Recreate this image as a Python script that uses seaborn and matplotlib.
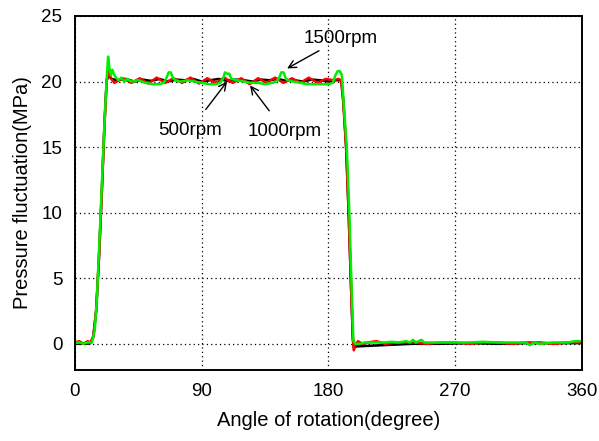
import matplotlib
matplotlib.use("Agg")
import matplotlib.pyplot as plt
import seaborn as sns
import pandas as pd

# 500 rpm (black)
angle_500 = [0, 4, 8, 11, 13, 15, 17, 19, 21, 22.5, 24, 26, 30, 36, 42, 48, 54, 60, 66, 72, 78, 84, 90,
             96, 102, 108, 114, 120, 126, 132, 138, 144, 150, 156, 162, 168, 174, 180, 185, 189,
             190.5, 192.5, 194.3, 195.8, 197.3, 198, 200, 210, 220, 230, 240, 260, 280, 300, 320, 340, 360]
press_500 = [0.0, 0.0, 0.0, 0.05, 0.5, 2.5, 6.5, 11.5, 17.0, 20.1, 20.5, 20.2, 20.1, 20.2, 20.0, 20.15, 20.05, 20.2, 20.0, 20.15, 20.1, 20.2, 20.0,
             20.1, 20.2, 20.05, 20.15, 20.1, 20.0, 20.15, 20.1, 20.2, 20.05, 20.1, 20.0, 20.15, 20.1, 20.0, 20.1, 20.1,
             18.5, 15.0, 10.0, 5.0, 0.3, -0.3, -0.2, -0.15, -0.1, -0.05, 0.0, 0.0, 0.05, 0.0, 0.05, 0.05, 0.05]

# 1000 rpm (red)
angle_1000 = [0, 3, 6, 9, 11, 13, 15, 17, 19, 21, 22.5, 23.5, 25, 28, 34, 40, 46, 52, 58, 64, 70, 76, 82,
              88, 94, 100, 106, 112, 118, 124, 130, 136, 142, 148, 154, 160, 166, 172, 178, 184, 187, 189,
              190.5, 192.5, 194.3, 195.8, 197.3, 198, 199, 201, 204, 208, 214, 220, 230, 240, 250, 260,
              270, 280, 290, 300, 310, 320, 330, 340, 350, 360]
press_1000 = [0.1, 0.2, 0.0, 0.2, 0.1, 0.6, 2.5, 6.5, 11.5, 16.8, 20.0, 20.8, 20.3, 19.9, 20.25, 19.9, 20.25, 19.85, 20.3, 19.9, 20.25, 19.9, 20.3,
              19.85, 20.25, 19.9, 20.3, 19.9, 20.25, 19.8, 20.25, 19.9, 20.3, 19.9, 20.25, 19.9, 20.3, 19.9, 20.2, 20.1, 20.2, 20.1,
              18.5, 15.0, 10.0, 5.0, 0.5, -0.5, -0.1, 0.2, 0.0, 0.1, 0.2, 0.0, 0.1, 0.1, 0.0, 0.1,
              0.1, 0.0, 0.1, 0.1, 0.0, 0.1, 0.1, 0.0, 0.1, 0.1]

# 1500 rpm (green)
angle_1500 = [0, 3, 6, 9, 12, 14, 15.5, 17, 19, 21, 22.5, 23.5, 24.5, 25.5, 26.5, 27.5, 29, 31, 33, 35, 37, 40,
              45, 50, 55, 60, 63, 65, 66.5, 68, 69.5, 71, 75, 80, 85, 90, 95, 100, 103, 105, 106.5, 108,
              109.5, 111, 115, 120, 125, 130, 135, 140, 143, 145, 146.5, 148, 149.5, 151, 155, 160, 165,
              170, 175, 180, 183, 185, 186.5, 188, 189.5, 191, 193, 194.8, 196.2, 197.7, 199, 202, 206,
              210, 215, 220, 225, 230, 235, 238, 240, 242, 246, 248, 250, 260, 270, 280, 290, 300, 310,
              320, 323, 326, 330, 340, 350, 355, 360]
press_1500 = [0.05, 0.1, 0.0, 0.1, 0.1, 1.0, 3.3, 7.0, 12.0, 17.0, 20.2, 21.9, 21.0, 20.5, 20.9, 20.6, 20.3, 20.1, 20.3, 20.0, 20.2, 20.0,
              20.1, 19.9, 19.8, 19.8, 19.9, 20.3, 20.7, 20.7, 20.3, 20.1, 20.0, 20.1, 20.0, 19.9, 19.8, 19.8, 19.9, 20.2, 20.7, 20.6,
              20.6, 20.2, 20.1, 20.0, 19.9, 19.9, 19.8, 19.9, 20.0, 20.3, 20.7, 20.7, 20.3, 20.1, 20.0, 19.9, 19.8,
              19.8, 19.8, 19.8, 19.9, 20.5, 20.8, 20.8, 20.5, 18.0, 15.0, 10.0, 5.0, 0.2, 0.0, 0.0, 0.1,
              0.1, 0.1, 0.1, 0.15, 0.1, 0.2, 0.1, 0.3, 0.1, 0.3, 0.1, 0.1, 0.1, 0.1, 0.1, 0.15, 0.1, 0.1,
              0.1, -0.1, 0.1, 0.0, 0.1, 0.1, 0.2, 0.2]

x_ticks = [0, 90, 180, 270, 360]
y_ticks = [0, 5, 10, 15, 20, 25]

sns.set_style("white")
plt.rcParams['font.family'] = ['Liberation Sans', 'DejaVu Sans']
plt.rcParams['text.color'] = 'black'
plt.rcParams['axes.labelcolor'] = 'black'
plt.rcParams['xtick.color'] = 'black'
plt.rcParams['ytick.color'] = 'black'

fig = plt.figure(figsize=(5.99, 4.41), dpi=100)
ax = fig.add_axes([75 / 599, 71 / 441, 507 / 599, 354 / 441])

series = [
    ("500rpm", angle_500, press_500, "black"),
    ("1000rpm", angle_1000, press_1000, "#ff0000"),
    ("1500rpm", angle_1500, press_1500, "#00ee00"),
]
for name, a, p, c in series:
    df = pd.DataFrame({"angle": a, "pressure": p})
    sns.lineplot(data=df, x="angle", y="pressure", ax=ax, color=c, lw=1.8,
                 sort=False, estimator=None)

ax.set_xlim(0, 360)
ax.set_ylim(-2, 25)
ax.set_xticks(x_ticks)
ax.set_yticks(y_ticks)
ax.grid(True, color="black", linestyle=(0, (1, 2.5)), linewidth=0.9)
ax.set_axisbelow(True)
for s in ax.spines.values():
    s.set_color("black")
    s.set_linewidth(1.4)
ax.tick_params(axis="both", length=0, labelsize=13.5, pad=9, colors="black")
ax.set_xlabel("Angle of rotation(degree)", fontsize=14.5, labelpad=8)
ax.set_ylabel("Pressure fluctuation(MPa)", fontsize=14.5, labelpad=7)

ax.annotate("1500rpm", xy=(150.6, 21.0), xytext=(162, 22.6), fontsize=13.5,
            ha="left", va="bottom",
            arrowprops=dict(arrowstyle="->", color="black", lw=1.0, shrinkA=0, shrinkB=0))
ax.annotate("500rpm", xy=(108, 20.0), xytext=(81.7, 16.3), fontsize=13.5,
            ha="center", va="center",
            arrowprops=dict(arrowstyle="->", color="black", lw=1.0, shrinkA=8, shrinkB=0))
ax.annotate("1000rpm", xy=(124.3, 19.7), xytext=(149, 16.2), fontsize=13.5,
            ha="center", va="center",
            arrowprops=dict(arrowstyle="->", color="black", lw=1.0, shrinkA=8, shrinkB=0))

fig.savefig("out.png", dpi=100)
